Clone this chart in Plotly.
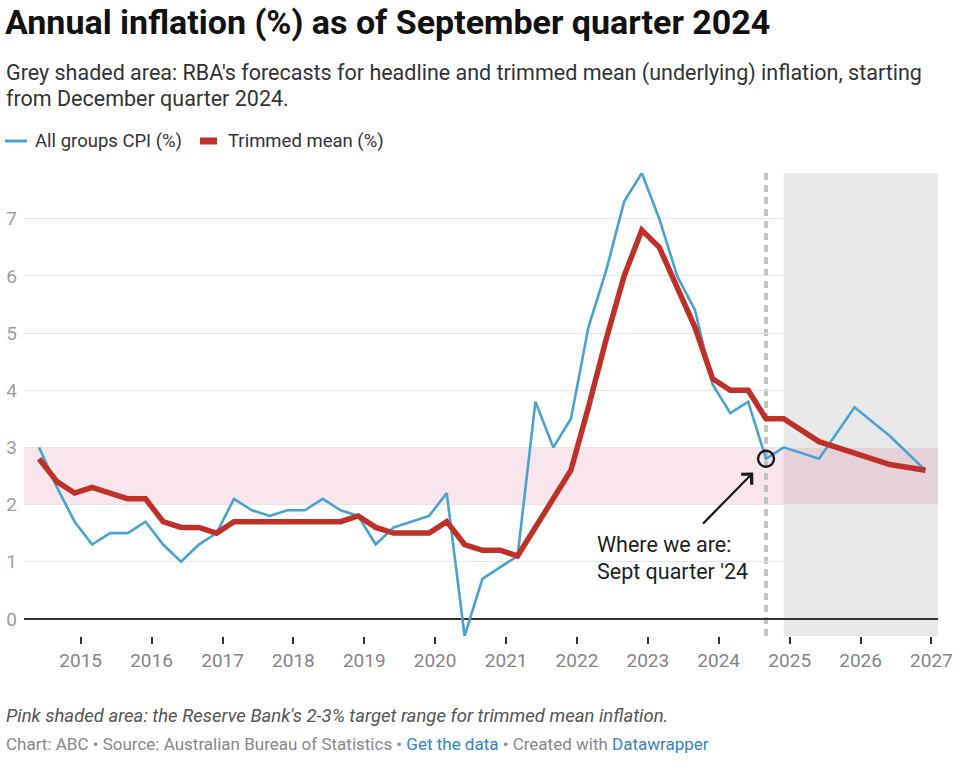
import plotly.graph_objects as go

# ---------------- data ----------------
quarters = [
    "2014-06-01", "2014-09-01", "2014-12-01",
    "2015-03-01", "2015-06-01", "2015-09-01", "2015-12-01",
    "2016-03-01", "2016-06-01", "2016-09-01", "2016-12-01",
    "2017-03-01", "2017-06-01", "2017-09-01", "2017-12-01",
    "2018-03-01", "2018-06-01", "2018-09-01", "2018-12-01",
    "2019-03-01", "2019-06-01", "2019-09-01", "2019-12-01",
    "2020-03-01", "2020-06-01", "2020-09-01", "2020-12-01",
    "2021-03-01", "2021-06-01", "2021-09-01", "2021-12-01",
    "2022-03-01", "2022-06-01", "2022-09-01", "2022-12-01",
    "2023-03-01", "2023-06-01", "2023-09-01", "2023-12-01",
    "2024-03-01", "2024-06-01", "2024-09-01",
    # RBA forecasts
    "2024-12-01", "2025-06-01", "2025-12-01", "2026-06-01", "2026-12-01",
]

cpi = [
    3.0, 2.3, 1.7,
    1.3, 1.5, 1.5, 1.7,
    1.3, 1.0, 1.3, 1.5,
    2.1, 1.9, 1.8, 1.9,
    1.9, 2.1, 1.9, 1.8,
    1.3, 1.6, 1.7, 1.8,
    2.2, -0.3, 0.7, 0.9,
    1.1, 3.8, 3.0, 3.5,
    5.1, 6.1, 7.3, 7.8,
    7.0, 6.0, 5.4, 4.1,
    3.6, 3.8, 2.8,
    3.0, 2.8, 3.7, 3.2, 2.6,
]

trimmed_mean = [
    2.8, 2.4, 2.2,
    2.3, 2.2, 2.1, 2.1,
    1.7, 1.6, 1.6, 1.5,
    1.7, 1.7, 1.7, 1.7,
    1.7, 1.7, 1.7, 1.8,
    1.6, 1.5, 1.5, 1.5,
    1.7, 1.3, 1.2, 1.2,
    1.1, 1.6, 2.1, 2.6,
    3.7, 4.9, 6.0, 6.8,
    6.5, 5.8, 5.1, 4.2,
    4.0, 4.0, 3.5,
    3.5, 3.1, 2.9, 2.7, 2.6,
]

current_quarter = "2024-09-01"
forecast_start = "2024-12-01"
target_band = [2, 3]

year_ticks = ["2015", "2016", "2017", "2018", "2019", "2020", "2021",
              "2022", "2023", "2024", "2025", "2026", "2027"]
y_ticks = [0, 1, 2, 3, 4, 5, 6, 7]

# ---------------- styling ----------------
FONT = "Roboto"
BLUE = "#4aa3cf"
RED = "#be3129"
W, H = 960, 764
L, R, T, B = 24, 22, 173, 128
X_RANGE = ["2014-03-15", "2027-02-04"]
Y_RANGE = [-0.3, 7.8]


def px_x(p):
    return (p - L) / (W - L - R)


def px_y(p):
    return (H - B - p) / (H - B - T)


fig = go.Figure()

fig.add_trace(go.Scatter(
    x=quarters, y=cpi, mode="lines", name="All groups CPI (%)",
    line=dict(color=BLUE, width=2.6), showlegend=False, hoverinfo="x+y",
))
fig.add_trace(go.Scatter(
    x=quarters, y=trimmed_mean, mode="lines", name="Trimmed mean (%)",
    line=dict(color=RED, width=5.5), showlegend=False, hoverinfo="x+y",
))

# current-quarter marker
idx = quarters.index(current_quarter)
fig.add_trace(go.Scatter(
    x=[quarters[idx]], y=[cpi[idx]], mode="markers",
    marker=dict(symbol="circle-open", size=16, color="#1a1a1a",
                line=dict(width=2.4, color="#1a1a1a")),
    showlegend=False, hoverinfo="skip",
))

shapes = [
    # forecast grey area
    dict(type="rect", xref="x", yref="paper", x0=forecast_start, x1=X_RANGE[1],
         y0=0, y1=1, fillcolor="#e9e9e9", line=dict(width=0), layer="below"),
    # target band
    dict(type="rect", xref="paper", yref="y", x0=0, x1=1,
         y0=target_band[0], y1=target_band[1],
         fillcolor="rgba(205,40,100,0.12)", line=dict(width=0), layer="below"),
    # current quarter dashed line
    dict(type="line", xref="x", yref="paper", x0=current_quarter, x1=current_quarter,
         y0=0, y1=1, line=dict(color="#c2c2c2", width=4, dash="7px,5px"),
         layer="between"),
    # legend swatches
    dict(type="line", xref="paper", yref="paper", x0=px_x(5), x1=px_x(27),
         y0=px_y(141), y1=px_y(141), line=dict(color=BLUE, width=3)),
    dict(type="line", xref="paper", yref="paper", x0=px_x(200), x1=px_x(217),
         y0=px_y(141), y1=px_y(141), line=dict(color=RED, width=7)),
]


def text_note(x, y, text, size, color, anchor="middle"):
    return dict(xref="paper", yref="paper", x=px_x(x), y=px_y(y), xanchor="left",
                yanchor=anchor, align="left", showarrow=False, text=text,
                borderpad=0, font=dict(family=FONT, size=size, color=color))


annotations = [
    text_note(5, 73, "Grey shaded area: RBA's forecasts for headline and trimmed mean (underlying) inflation, starting",
              21.5, "#333333"),
    text_note(5, 99, "from December quarter 2024.", 21.5, "#333333"),
    text_note(34, 141, "All groups CPI (%)", 18.5, "#333333"),
    text_note(227, 141, "Trimmed mean (%)", 18.5, "#333333"),
    text_note(5, 716, "<i>Pink shaded area: the Reserve Bank's 2-3% target range for trimmed mean inflation.</i>",
              18.5, "#555555"),
    text_note(5, 744, "Chart: ABC • Source: Australian Bureau of Statistics • "
                      "<span style='color:#2f86c2'>Get the data</span> • Created with "
                      "<span style='color:#2f86c2'>Datawrapper</span>",
              17, "#888888"),
    # "where we are" note
    dict(xref="x", yref="y", x="2022-04-09", y=(619 - 545) / 57.2, xanchor="left",
         yanchor="middle", align="left", showarrow=False, borderpad=0,
         text="Where we are:", font=dict(family=FONT, size=21.5, color="#1f1f1f")),
    dict(xref="x", yref="y", x="2022-04-09", y=(619 - 572) / 57.2, xanchor="left",
         yanchor="middle", align="left", showarrow=False, borderpad=0,
         text="Sept quarter '24", font=dict(family=FONT, size=21.5, color="#1f1f1f")),
    dict(xref="x", yref="y", x="2024-06-27", y=2.56, axref="x", ayref="y",
         ax="2023-10-05", ay=1.64, showarrow=True, arrowhead=4, arrowsize=1.3,
         arrowwidth=2.2, arrowcolor="#1a1a1a", text=""),
]

fig.update_layout(
    width=W, height=H,
    margin=dict(l=L, r=R, t=T, b=B, autoexpand=False),
    paper_bgcolor="white", plot_bgcolor="white",
    font=dict(family=FONT),
    title=dict(text="<b>Annual inflation (%) as of September quarter 2024</b>",
               x=5 / W, xanchor="left", y=1 - 22 / H, yanchor="middle",
               font=dict(family=FONT, size=34, color="#111111")),
    shapes=shapes,
    annotations=annotations,
    xaxis=dict(
        type="date", range=X_RANGE, automargin=False,
        tickvals=[f"{y}-01-01" for y in year_ticks], ticktext=year_ticks,
        showgrid=False, zeroline=False, showline=False,
        ticks="outside", ticklen=7, tickwidth=1.5, tickcolor="#333333",
        tickfont=dict(family=FONT, size=19, color="#858585"),
        fixedrange=True,
    ),
    yaxis=dict(
        range=Y_RANGE, tickvals=y_ticks, showgrid=True, gridcolor="#e6e6e6",
        automargin=False,
        gridwidth=1, zeroline=True, zerolinecolor="#333333", zerolinewidth=1.8,
        showline=False, ticks="", ticklabelstandoff=6,
        tickfont=dict(family=FONT, size=19, color="#9e9e9e"),
        fixedrange=True,
    ),
    hovermode=False,
)

fig.write_html("out.html")
